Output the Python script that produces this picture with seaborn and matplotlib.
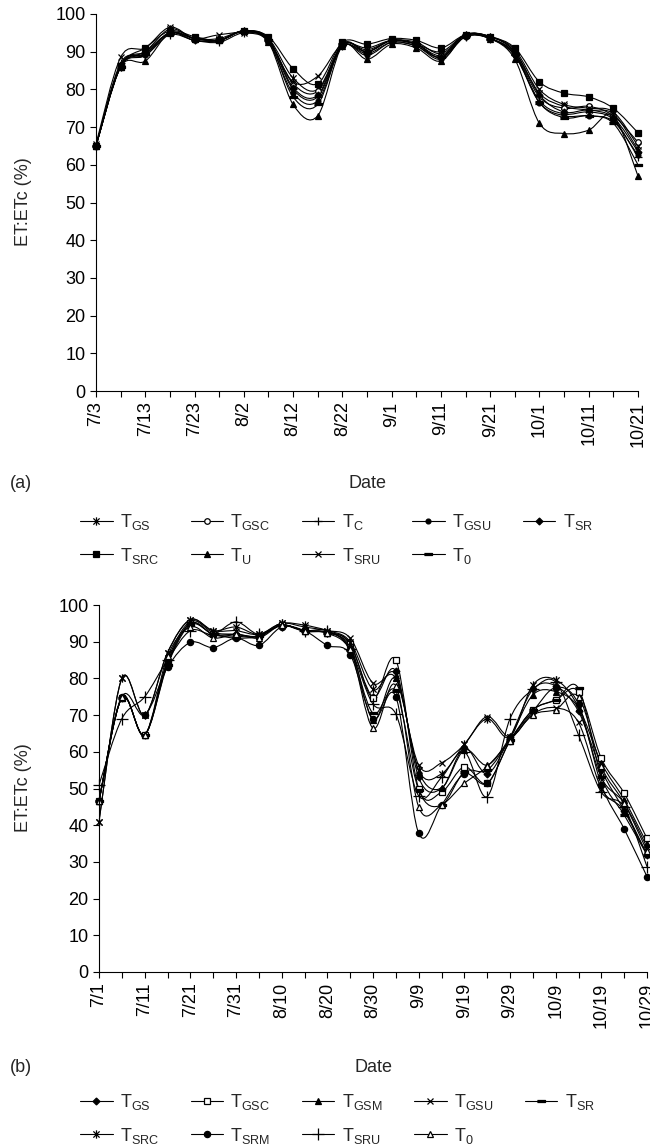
import numpy as np
import matplotlib
matplotlib.use("Agg")
import matplotlib.pyplot as plt
from matplotlib.path import Path
from matplotlib.patches import PathPatch
from matplotlib.lines import Line2D
import seaborn as sns

sns.set_style("ticks")
plt.rcParams['font.family'] = ['Liberation Sans', 'DejaVu Sans']
plt.rcParams['mathtext.default'] = 'regular'

FS = 13

# ---------- data (a): day counted from 7/1 (7/3 = 2) ----------
days_a = [2, 7, 12, 17, 22, 27, 32, 37, 42, 47, 52, 57, 62, 67, 72, 77, 82, 87, 92, 97, 102, 107, 112]
ticks_a = ['7/3', '7/13', '7/23', '8/2', '8/12', '8/22', '9/1', '9/11', '9/21', '10/1', '10/11', '10/21']

TGS_a  = [65, 86, 90, 96, 93.5, 93.5, 95.5, 93.5, 83, 80, 92, 90.5, 93, 92.5, 89.5, 94.5, 94, 90, 79, 75.5, 74.5, 73.5, 64]
TGSC_a = [65, 86.5, 89.5, 95, 93, 93, 95.5, 93, 81.5, 79.5, 91.5, 90, 93, 92, 89, 94.5, 93.5, 89.5, 78, 75, 75.5, 73, 66]
TC_a   = [65, 87, 89, 94.5, 93, 92.5, 95, 93, 80, 78, 91.5, 89.5, 92.5, 91.5, 88.5, 94, 93.5, 89, 77, 73.5, 74, 72, 62]
TGSU_a = [65, 86, 89, 95, 93.5, 93, 95.5, 92.5, 79, 77, 91.5, 89, 92.5, 91.5, 88, 94, 93.5, 89, 76.5, 73, 73, 71.5, 62.5]
TSR_a  = [65, 86.5, 90, 95, 93.5, 93, 95.5, 93.5, 80.5, 78.5, 92, 90, 93, 92, 88.5, 94.5, 94, 90, 78.5, 74, 74.5, 72.5, 63.5]
TSRC_a = [65, 86, 91, 95.5, 94, 93, 95.5, 94, 85.5, 81.5, 92.5, 92, 93.5, 93, 91, 94.5, 94, 91, 82, 79, 78, 75, 68.5]
TU_a   = [65, 86, 87.5, 95, 93.5, 93, 95.5, 92.5, 76, 73, 91.5, 88, 92, 91, 87.5, 94.5, 93.5, 88, 71, 68.3, 69.2, 73, 57]
TSRU_a = [65.5, 88.5, 91, 96.5, 93.5, 94.5, 95, 93, 82, 83.5, 92, 91, 93, 92, 90, 94.5, 94, 90.5, 80, 76, 75, 74, 65]
T0_a   = [65, 86, 89.5, 95, 93, 93, 95.5, 93, 78, 76, 92, 90, 93, 92, 88.5, 94.5, 93.5, 89.5, 76.5, 72.5, 73, 71, 60]

# ---------- data (b): day counted from 7/1 ----------
days_b = [0, 5, 10, 15, 20, 25, 30, 35, 40, 45, 50, 55, 60, 65, 70, 75, 80, 85, 90, 95, 100, 105, 110, 115, 120]
ticks_b = ['7/1', '7/11', '7/21', '7/31', '8/10', '8/20', '8/30', '9/9', '9/19', '9/29', '10/9', '10/19', '10/29']

TGS_b  = [46.5, 74.7, 64.6, 84, 95, 92, 92, 91.5, 94.5, 93, 92.5, 89, 75, 82, 53, 50, 61, 54, 64, 77, 78, 71, 55, 44, 32]
TGSC_b = [46.5, 74.7, 64.6, 84.5, 95, 92, 91.5, 91.5, 94.5, 93, 92.5, 89.5, 74.6, 85, 50, 49, 55.9, 51.4, 63, 71.4, 74.1, 76.4, 58.2, 48.7, 36.4]
TGSM_b = [46.5, 74.7, 64.6, 85, 95.5, 92.5, 92, 91.5, 94.5, 93, 92.5, 89, 68.7, 80, 54.6, 50.1, 60.5, 56.4, 64, 75.5, 76.4, 72, 57, 47, 35]
TGSU_b = [41, 80, 70, 87, 96, 93, 93, 92, 95, 94, 93, 91, 78.7, 80, 56.4, 57, 62, 69.6, 64, 70.3, 72, 68, 50, 44, 32]
TSR_b  = [46.5, 74.7, 64.6, 83.6, 94.6, 92, 91, 91.5, 94.4, 92.8, 92.3, 87.7, 70.5, 76.5, 49.6, 45.5, 54.5, 55, 63.2, 71.4, 74.1, 77.3, 53.2, 42.8, 31.9]
TSRC_b = [41, 80, 70, 87, 96, 93, 94, 92, 95, 94.5, 93, 90, 77, 81, 55, 54, 62, 69, 64, 78.2, 79.6, 72, 53, 46, 34]
TSRM_b = [46.5, 75, 70, 83, 89.8, 88.4, 91, 89, 94, 93, 89, 86.5, 69, 75, 37.8, 45.5, 54, 51.4, 63, 71, 77.5, 73, 51, 39, 26]
TSRU_b = [51, 69, 75, 85, 93, 92, 95.4, 92, 94.5, 93, 93, 88, 73, 70.3, 48, 53, 60, 47.8, 69, 77, 79, 64.6, 49, 45, 28.7]
T0_b   = [46.5, 75, 64.5, 86, 94, 91, 92, 91, 94.5, 93, 92.5, 88, 66.4, 78, 45, 45.5, 51.4, 56, 63, 70, 71.5, 75, 56, 46, 33]

# marker shapes in the Excel style
STAR = Path([(0, -1), (0, 1), (-0.75, -0.75), (0.75, 0.75), (-0.75, 0.75), (0.75, -0.75)],
            [Path.MOVETO, Path.LINETO] * 3)
DASH = [(-1, -0.35), (1, -0.35), (1, 0.35), (-1, 0.35)]

series_a = [
    ('T$_{GS}$', TGS_a, STAR, 'k', 6),
    ('T$_{GSC}$', TGSC_a, 'o', 'white', 4),
    ('T$_{C}$', TC_a, '+', 'k', 6),
    ('T$_{GSU}$', TGSU_a, 'o', 'k', 3.5),
    ('T$_{SR}$', TSR_a, 'D', 'k', 3.5),
    ('T$_{SRC}$', TSRC_a, 's', 'k', 4.5),
    ('T$_{U}$', TU_a, '^', 'k', 4.5),
    ('T$_{SRU}$', TSRU_a, 'x', 'k', 5),
    ('T$_{0}$', T0_a, DASH, 'k', 6),
]
series_b = [
    ('T$_{GS}$', TGS_b, 'D', 'k', 3.5),
    ('T$_{GSC}$', TGSC_b, 's', 'white', 4.5),
    ('T$_{GSM}$', TGSM_b, '^', 'k', 4.5),
    ('T$_{GSU}$', TGSU_b, 'x', 'k', 5),
    ('T$_{SR}$', TSR_b, DASH, 'k', 6),
    ('T$_{SRC}$', TSRC_b, STAR, 'k', 6),
    ('T$_{SRM}$', TSRM_b, 'o', 'k', 4.5),
    ('T$_{SRU}$', TSRU_b, '+', 'k', 8),
    ('T$_{0}$', T0_b, '^', 'white', 4.5),
]


def smooth_path(x, y):
    # Bezier smoothing like the spreadsheet "smoothed line" option
    x = np.asarray(x, float)
    y = np.asarray(y, float)
    n = len(x)
    verts = [(x[0], y[0])]
    codes = [Path.MOVETO]
    for i in range(n - 1):
        x0, y0 = (x[i - 1], y[i - 1]) if i > 0 else (x[i], y[i])
        x3, y3 = (x[i + 2], y[i + 2]) if i + 2 < n else (x[i + 1], y[i + 1])
        c1 = (x[i] + (x[i + 1] - x0) / 6, y[i] + (y[i + 1] - y0) / 6)
        c2 = (x[i + 1] - (x3 - x[i]) / 6, y[i + 1] - (y3 - y[i]) / 6)
        verts += [c1, c2, (x[i + 1], y[i + 1])]
        codes += [Path.CURVE4] * 3
    return Path(verts, codes)


def draw_panel(ax, days, series, tick_labels):
    handles = []
    for name, vals, mk, fc, ms in series:
        ax.add_patch(PathPatch(smooth_path(days, vals), fill=False, lw=0.8, ec='k'))
        sns.lineplot(x=days, y=vals, ax=ax, marker=mk, markersize=ms, linewidth=0,
                     color='k', markerfacecolor=fc, markeredgecolor='k',
                     markeredgewidth=0.9, clip_on=False, legend=False)
        handles.append(Line2D([], [], color='k', lw=0.8, marker=mk, markersize=ms,
                              markerfacecolor=fc, markeredgecolor='k', markeredgewidth=0.9))
    ax.set_xlim(days[0], days[-1])
    ax.set_ylim(0, 100)
    ax.set_yticks(range(0, 101, 10))
    ax.set_xticks(days)
    lab = []
    for i in range(len(days)):
        lab.append(tick_labels[i // 2] if i % 2 == 0 else '')
    ax.set_xticklabels(lab, rotation=90)
    ax.tick_params(axis='both', labelsize=FS, length=4, width=0.8, direction='out', colors='k')
    sns.despine(ax=ax)
    for s in ['left', 'bottom']:
        ax.spines[s].set_linewidth(0.8)
        ax.spines[s].set_color('k')
    ax.set_xlabel('')
    ax.set_ylabel('')
    return handles


W, H = 650, 1144
fig = plt.figure(figsize=(W / 100, H / 100), dpi=100)

ax1 = fig.add_axes([96 / W, 1 - 391 / H, (638 - 96) / W, (391 - 14) / H])
ax2 = fig.add_axes([99 / W, 1 - 972 / H, (647 - 99) / W, (972 - 605) / H])

h1 = draw_panel(ax1, days_a, series_a, ticks_a)
h2 = draw_panel(ax2, days_b, series_b, ticks_b)

for ax, yc in [(ax1, 202), (ax2, 788)]:
    fig.text(24 / W, 1 - yc / H, 'ET:ETc (%)', rotation=90, ha='center', va='center', fontsize=FS)

fig.text(367 / W, 1 - 483 / H, 'Date', ha='center', va='center', fontsize=FS)
fig.text(10 / W, 1 - 483 / H, '(a)', ha='left', va='center', fontsize=FS)
fig.text(373 / W, 1 - 1067 / H, 'Date', ha='center', va='center', fontsize=FS)
fig.text(10 / W, 1 - 1067 / H, '(b)', ha='left', va='center', fontsize=FS)


def add_legend(handles, series, top_px):
    # legend fills column by column, reorder to get rows like the original
    order = [0, 5, 1, 6, 2, 7, 3, 8, 4]
    hs = [handles[i] for i in order]
    ls = [series[i][0] for i in order]
    fig.legend(hs, ls, loc='upper left', bbox_to_anchor=(80 / W, 1 - top_px / H),
               ncol=5, frameon=False, fontsize=FS, handlelength=1.8, handletextpad=0.4,
               columnspacing=1.75, labelspacing=0.75, borderpad=0, borderaxespad=0)


add_legend(h1, series_a, 512)
add_legend(h2, series_b, 1092)

fig.savefig('out.png', dpi=100)
